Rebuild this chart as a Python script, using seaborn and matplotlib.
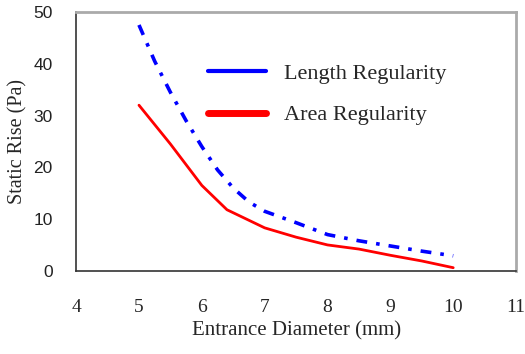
import matplotlib
matplotlib.use("Agg")
import matplotlib.pyplot as plt
import seaborn as sns
import pandas as pd

x_length = [5.0, 5.25, 5.5, 5.75, 6.0, 6.25, 6.5, 6.75, 7.0, 7.5, 8.0, 8.5, 9.0, 9.5, 10.0]
y_length = [47.5, 40.5, 34.5, 29.0, 24.0, 19.5, 16.0, 13.3, 11.5, 9.3, 7.0, 5.8, 4.8, 3.8, 2.9]
x_area = [5.0, 5.5, 6.0, 6.4, 7.0, 7.5, 8.0, 8.5, 9.0, 9.5, 10.0]
y_area = [32.0, 24.5, 16.5, 11.8, 8.3, 6.5, 5.0, 4.2, 3.0, 1.9, 0.6]
series_names = ["Length Regularity", "Area Regularity"]
x_ticks = [4, 5, 6, 7, 8, 9, 10, 11]
y_ticks = [0, 10, 20, 30, 40, 50]

sns.set_style("white")
plt.rcParams["font.family"] = ["Liberation Serif", "DejaVu Serif"]

fig = plt.figure(figsize=(5.25, 3.54), dpi=100)
ax = fig.add_axes([0.145, 0.235, 0.838, 0.731])

df_l = pd.DataFrame({"x": x_length, "y": y_length})
df_a = pd.DataFrame({"x": x_area, "y": y_area})
sns.lineplot(data=df_l, x="x", y="y", ax=ax, color="#0000ff", lw=2.6,
             linestyle=(0, (3, 2.5, 1, 2.5)), label=series_names[0])
sns.lineplot(data=df_a, x="x", y="y", ax=ax, color="#ff0000", lw=2.0,
             label=series_names[1])

ax.set_xlim(4, 11)
ax.set_ylim(0, 50)
ax.set_xticks(x_ticks)
ax.set_yticks(y_ticks)
ax.set_xticklabels([str(t) for t in x_ticks], fontsize=14)
ax.set_yticklabels([str(t) for t in y_ticks], fontsize=12.5, family="Liberation Sans", color="#222222")
ax.tick_params(axis="both", direction="in", length=5, width=1, color="#333333")
ax.tick_params(axis="x", pad=20)
ax.tick_params(axis="y", pad=17)
ax.set_xlabel("Entrance Diameter (mm)", fontsize=15, labelpad=4)
ax.set_ylabel("Static Rise (Pa)", fontsize=14.5, labelpad=4)

for s in ["left", "bottom"]:
    ax.spines[s].set_color("#333333")
    ax.spines[s].set_linewidth(1.2)
for s in ["top", "right"]:
    ax.spines[s].set_color("#aaaaaa")
    ax.spines[s].set_linewidth(2.0)

leg = ax.legend(loc="upper left", bbox_to_anchor=(0.255, 0.88), frameon=False,
                fontsize=16, handlelength=2.6, handletextpad=0.8, labelspacing=0.95)
for line in leg.get_lines():
    line.set_linestyle("-")
    line.set_linewidth(3.0)
leg.get_lines()[1].set_linewidth(5)

fig.savefig("out.png", dpi=100)
